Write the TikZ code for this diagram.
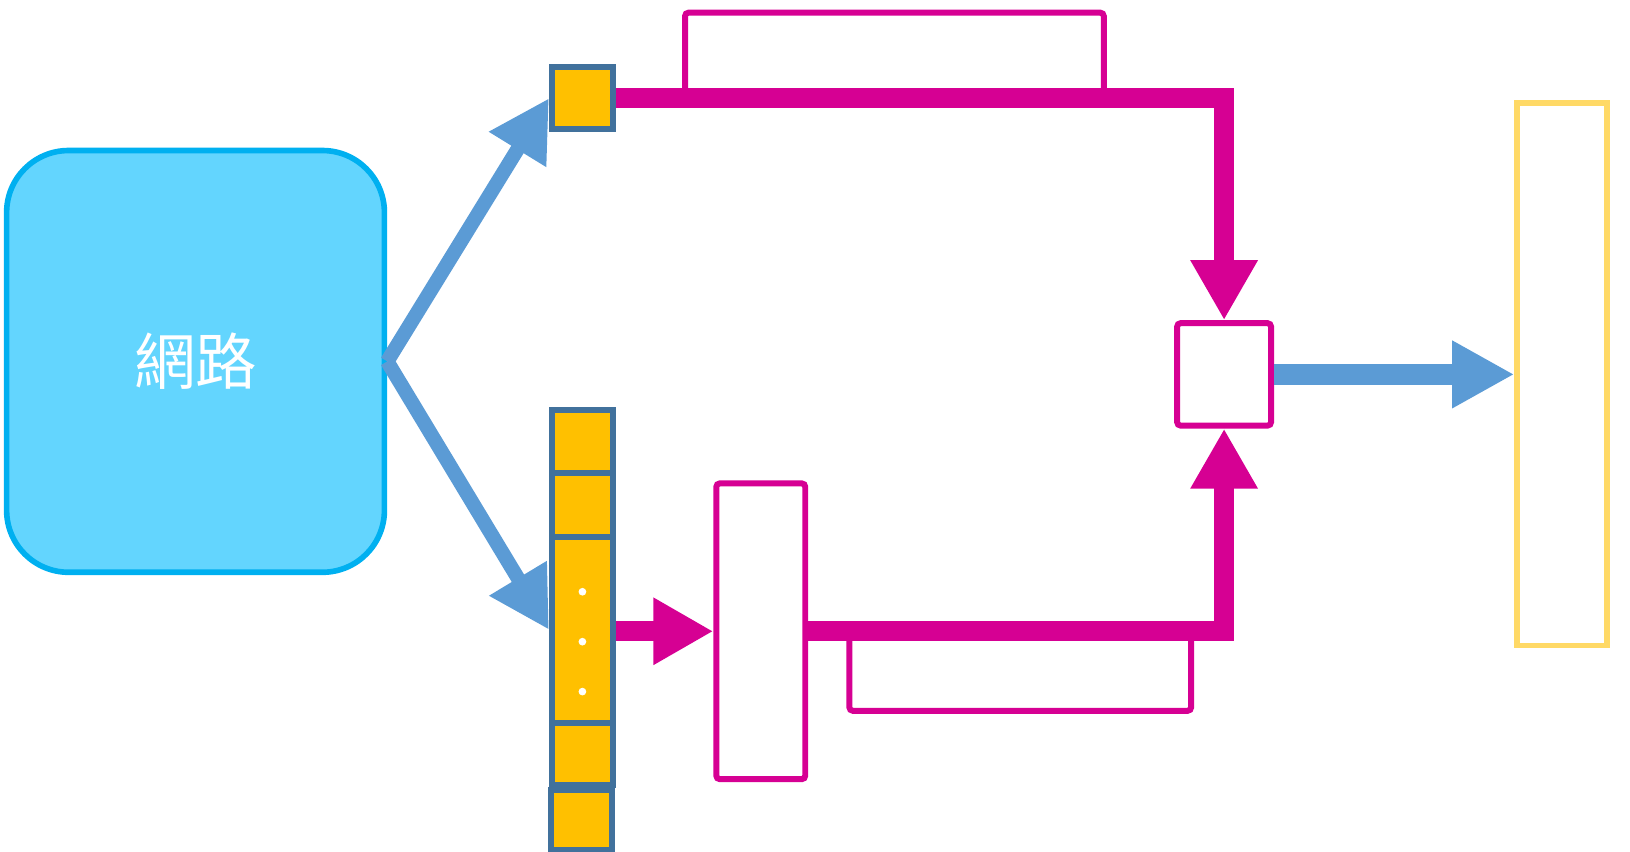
\documentclass[tikz,border=0pt]{standalone}
\usepackage{fontspec}
\newfontfamily\cjk{Noto Sans CJK TC}
\usetikzlibrary{arrows.meta}
\definecolor{netfill}{RGB}{99,213,254}
\definecolor{netline}{RGB}{0,176,240}
\definecolor{cellfill}{RGB}{255,192,0}
\definecolor{cellline}{RGB}{65,113,156}
\definecolor{magpink}{RGB}{214,0,147}
\definecolor{arrowblue}{RGB}{91,155,213}
\definecolor{outyellow}{RGB}{255,217,102}

\begin{document}
\begin{tikzpicture}[x=0.0104cm, y=-0.0104cm,
  cell/.style={draw=cellline, fill=cellfill, line width=1.7pt, minimum width=0.61cm, inner sep=0pt},
  pinkbox/.style={draw=magpink, fill=white, line width=1.7pt, inner sep=0pt, rounded corners=1pt},
  pinkbar/.style={draw=magpink, line width=5.6pt, -{Triangle[length=17.1pt,width=18pt]}},
  bluearrow/.style={draw=arrowblue, line width=4.1pt, -{Triangle[length=17.1pt,width=18pt]}},
  bluewide/.style={draw=arrowblue, line width=5.9pt, -{Triangle[length=17.7pt,width=18pt]}}]
\useasboundingbox (0,0) rectangle (1567.3,819.2);

% Network
\node[draw=netline, fill=netfill, line width=1.6pt, rounded corners=0.62cm,
      minimum width=3.78cm, minimum height=4.22cm, text=white] (net) at (188,347.5)
      {\cjk\fontsize{17.5}{20}\selectfont 網路};

% Cells
\node[cell, minimum height=0.62cm] (topcell) at (560,94.5) {};
\node[cell, minimum height=0.634cm] (cell1) at (560,424.5) {};
\node[cell, minimum height=0.634cm] (cell2) at (560,485.5) {};
\node[cell, minimum height=1.862cm] (cell3) at (560,605.5) {};
\node[cell, minimum height=0.624cm] (cell4) at (560,725) {};
\node[cell, minimum height=0.6cm] (cell5) at (559,788.5) {};
\foreach \y in {569,617,665}
  \fill[white] (560,\y) circle (1.1pt);

% Boxes
\node[pinkbox, minimum width=4.19cm, minimum height=0.86cm] (toprect) at (860,53.5) {};
\node[pinkbox, minimum width=3.42cm, minimum height=0.79cm] (botrect) at (981,645.5) {};
\node[pinkbox, minimum width=0.89cm, minimum height=2.96cm] (tall) at (731.5,607) {};
\node[pinkbox, minimum width=0.94cm, minimum height=1.025cm] (mix) at (1177,360) {};
\node[draw=outyellow, fill=white, line width=1.6pt, inner sep=0pt,
      minimum width=0.9cm, minimum height=5.425cm] (outbox) at (1502,360) {};

% Arrows
\draw[bluearrow] (net.east) -- (topcell.west);
\draw[bluearrow] (net.east) -- (cell3.west);
\draw[pinkbar] (topcell.east) -| (mix.north);
\draw[pinkbar] (tall.east) -| (mix.south);
\draw[pinkbar] (cell3.east |- tall.west) -- (tall.west);
\draw[bluewide] (mix.east) -- (outbox.west);

\end{tikzpicture}
\end{document}
